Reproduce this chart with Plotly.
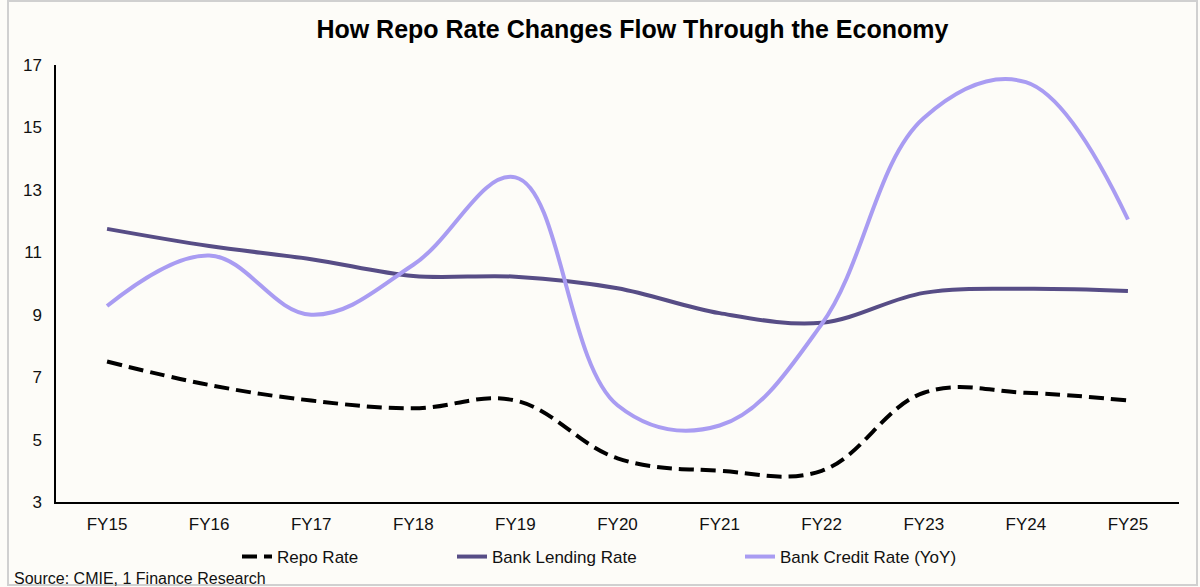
import plotly.graph_objects as go

years = ["FY15", "FY16", "FY17", "FY18", "FY19", "FY20", "FY21", "FY22", "FY23", "FY24", "FY25"]
repo_rate = [7.5, 6.75, 6.25, 6.0, 6.25, 4.4, 4.0, 4.0, 6.5, 6.5, 6.25]
lending_rate = [11.75, 11.2, 10.78, 10.24, 10.22, 9.85, 9.05, 8.74, 9.7, 9.83, 9.76]
credit_rate = [9.28, 10.9, 9.0, 10.6, 13.4, 6.1, 5.45, 8.7, 15.3, 16.45, 12.05]

W, H = 1200, 587
L, R, T, B = 56, 21, 65, 85
pw, ph = W - L - R, H - T - B


def px_x(p):
    return (p - L) / pw


def px_y(p):
    return (H - B - p) / ph


fig = go.Figure()

fig.add_trace(go.Scatter(
    x=years, y=repo_rate, name="Repo Rate", mode="lines", legend="legend",
    showlegend=True,
    line=dict(color="#000000", width=4, dash="15px,7px", shape="spline", smoothing=1.1)
))
fig.add_trace(go.Scatter(
    x=years, y=lending_rate, name="Bank Lending Rate", mode="lines", legend="legend2",
    showlegend=True,
    line=dict(color="#574D86", width=4, shape="spline", smoothing=1.0)
))
fig.add_trace(go.Scatter(
    x=years, y=credit_rate, name="Bank Credit Rate (YoY)", mode="lines", legend="legend3",
    showlegend=True,
    line=dict(color="#A99CF2", width=4, shape="spline", smoothing=1.1)
))

leg = dict(orientation="h", y=px_y(557), yanchor="middle", xanchor="left",
           font=dict(size=17, color="#111111"), bgcolor="rgba(0,0,0,0)")

fig.update_layout(
    width=W, height=H,
    margin=dict(l=L, r=R, t=T, b=B),
    paper_bgcolor="#FDFCF8",
    plot_bgcolor="#FDFCF8",
    showlegend=True,
    font=dict(family="Liberation Sans, Arial", size=17, color="#111111"),
    title=dict(
        text="<b>How Repo Rate Changes Flow Through the Economy</b>",
        x=0.527, xanchor="center", y=0.951, yanchor="middle",
        font=dict(size=25, color="#000000")
    ),
    xaxis=dict(
        range=[-0.5, 10.5], showgrid=False, showline=True, linecolor="#000000",
        linewidth=1.5, ticks="", tickfont=dict(size=17), zeroline=False,
        ticklabelstandoff=6
    ),
    yaxis=dict(
        range=[3, 17], tick0=3, dtick=2, showgrid=False, showline=True,
        linecolor="#000000", linewidth=1.5, ticks="", zeroline=False,
        tickfont=dict(size=17), ticklabelstandoff=9
    ),
    legend=dict(leg, x=px_x(237)),
    legend2=dict(leg, x=px_x(452)),
    legend3=dict(leg, x=px_x(740)),
    shapes=[dict(
        type="rect", xref="paper", yref="paper",
        x0=px_x(8), x1=px_x(1197), y0=px_y(585), y1=px_y(1),
        line=dict(color="#D0D0D0", width=2), fillcolor="rgba(0,0,0,0)", layer="below"
    )],
    annotations=[dict(
        text="Source: CMIE, 1 Finance Research", xref="paper", yref="paper",
        x=px_x(12), y=px_y(578), xanchor="left", yanchor="middle",
        showarrow=False, font=dict(size=16, color="#111111")
    )],
)

fig.write_html("out.html", config={"displayModeBar": False},
               post_script="document.body.style.margin='0';")
